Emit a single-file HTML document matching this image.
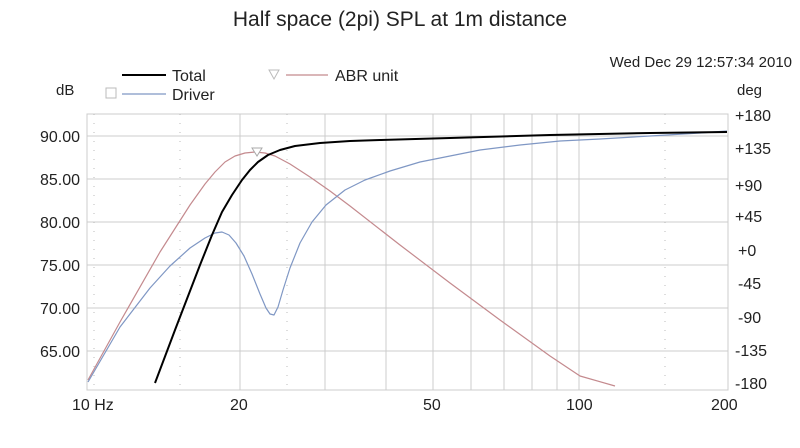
<!DOCTYPE html>
<html><head><style>
body{margin:0;background:#fff;width:800px;height:443px;overflow:hidden;font-family:"Liberation Sans",sans-serif}
</style></head><body>
<svg width="800" height="443" xmlns="http://www.w3.org/2000/svg" font-family="Liberation Sans, sans-serif">
<text x="400" y="26" font-size="21" text-anchor="middle" fill="#222">Half space (2pi) SPL at 1m distance</text>
<text x="792" y="67" font-size="15" text-anchor="end" fill="#222">Wed Dec 29 12:57:34 2010</text>
<text x="56" y="95" font-size="15" fill="#222">dB</text>
<text x="737" y="95" font-size="15" fill="#222">deg</text>
<line x1="122" y1="75" x2="166" y2="75" stroke="#000" stroke-width="2"/>
<text x="172" y="81" font-size="16" fill="#222">Total</text>
<rect x="106" y="88" width="10" height="10" fill="none" stroke="#bbb"/>
<line x1="122" y1="94" x2="166" y2="94" stroke="#7f97c4" stroke-width="1.2"/>
<text x="172" y="100" font-size="16" fill="#222">Driver</text>
<path d="M269,70 L279,70 L274,79 Z" fill="none" stroke="#bbb"/>
<line x1="286" y1="75" x2="328" y2="75" stroke="#c48a8e" stroke-width="1.2"/>
<text x="335" y="81" font-size="16" fill="#222">ABR unit</text>
<g stroke="#ccc" stroke-width="1">
<rect x="87" y="114" width="641" height="276" fill="none"/>
<line x1="87" y1="136" x2="728" y2="136"/><line x1="87" y1="179" x2="728" y2="179"/>
<line x1="87" y1="222" x2="728" y2="222"/><line x1="87" y1="265" x2="728" y2="265"/>
<line x1="87" y1="308" x2="728" y2="308"/><line x1="87" y1="351" x2="728" y2="351"/>
<line x1="240" y1="114" x2="240" y2="390"/><line x1="325" y1="114" x2="325" y2="390"/>
<line x1="386" y1="114" x2="386" y2="390"/><line x1="433" y1="114" x2="433" y2="390"/>
<line x1="471" y1="114" x2="471" y2="390"/><line x1="504" y1="114" x2="504" y2="390"/>
<line x1="532" y1="114" x2="532" y2="390"/><line x1="557" y1="114" x2="557" y2="390"/>
<line x1="579" y1="114" x2="579" y2="390"/>
</g>
<g stroke="#bbb" stroke-dasharray="1,8">
<line x1="180" y1="114" x2="180" y2="390"/><line x1="287" y1="114" x2="287" y2="390"/>
<line x1="665" y1="114" x2="665" y2="390"/><line x1="94" y1="114" x2="94" y2="390"/>
</g>
<g font-size="16" fill="#222">
<g text-anchor="end"><text x="80" y="142">90.00</text><text x="80" y="185">85.00</text><text x="80" y="228">80.00</text><text x="80" y="271">75.00</text><text x="80" y="314">70.00</text><text x="80" y="357">65.00</text></g>
<text x="72" y="410">10 Hz</text><text x="230" y="410">20</text><text x="423" y="410">50</text><text x="566" y="410">100</text><text x="711" y="410">200</text>
<g text-anchor="start"><text x="735" y="121">+180</text><text x="735" y="154">+135</text><text x="735" y="191">+90</text><text x="735" y="222">+45</text><text x="738" y="256">+0</text><text x="738" y="289">-45</text><text x="738" y="323">-90</text><text x="735" y="356">-135</text><text x="735" y="389">-180</text></g>
</g>
<g fill="none" stroke-linejoin="round">
<polyline stroke="#c48a8e" stroke-width="1.2" points="88,380 120,322 160,252 190,205 205,184 215,172 225,162 235,156 245,153 255,152 265,153 275,156 290,164 310,177 330,191 350,206 400,245 450,283 500,320 550,356 580,376 615,386"/>
<polyline stroke="#7f97c4" stroke-width="1.2" points="88,382 120,327 150,288 170,266 190,248 205,238 215,233 222,232 229,235 236,243 244,256 252,274 260,294 266,308 270,314 274,315 278,307 283,290 290,268 300,243 312,222 326,205 345,190 365,180 390,171 420,162 450,156 480,150 520,145 560,141 600,139 650,136 700,133 727,131"/>
<polyline stroke="#000" stroke-width="2" points="155,383 175,330 200,265 212,235 222,212 232,195 242,180 250,170 258,162 268,155 280,150 295,146 320,143 350,141 380,140 450,138 550,135 650,133 727,132"/>
</g>
<path d="M252,148 L262,148 L257,156 Z" fill="#fff" stroke="#aaa"/>
</svg>
</body></html>
